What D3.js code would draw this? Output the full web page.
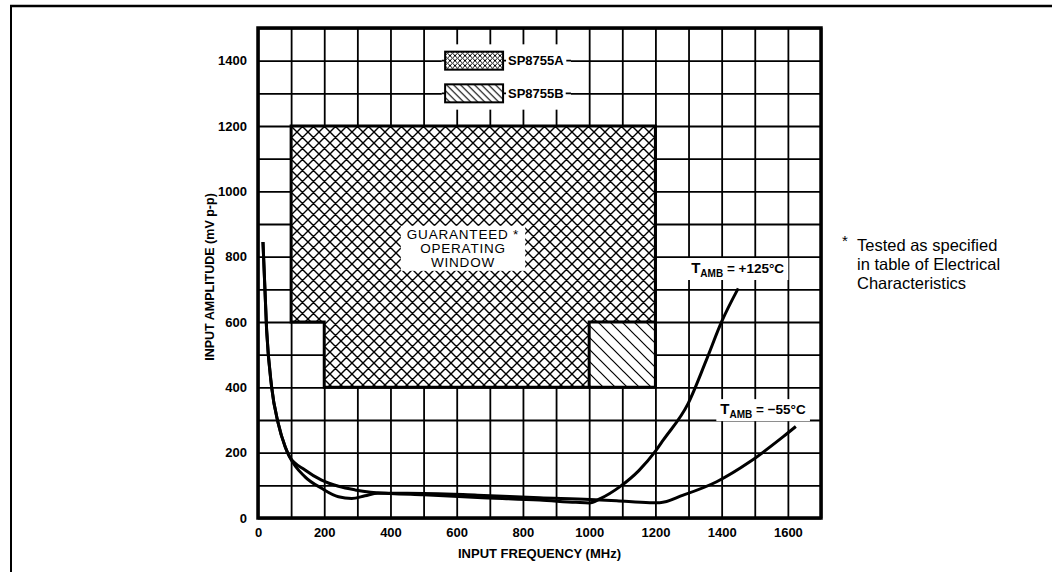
<!DOCTYPE html>
<html>
<head>
  <meta charset="utf-8">
  <title>SP8755 input sensitivity</title>
  <script src="https://d3js.org/d3.v7.min.js"></script>
  <style>
    body { margin: 0; background: #fff; }
    text { font-family: "Liberation Sans", Arial, Helvetica, sans-serif; fill: #000; }
  </style>
</head>
<body>
<script>
// ---- data ----
var freqTicks = [0, 200, 400, 600, 800, 1000, 1200, 1400, 1600];
var ampTicks = [0, 200, 400, 600, 800, 1000, 1200, 1400];

// T amb = -55 C  [MHz, mV p-p]
var curveM55 = [[15,845],[26,576],[41,402],[61,290],[82,218],[95,188],[142,126],[192,91],
  [243,65],[283,60],[323,68],[362,76],[450,76],[663,70],[850,62],[1002,57],[1083,53],
  [1183,47],[1213,47],[1284,70],[1385,111],[1485,172],[1586,249],[1624,280]];
// T amb = +125 C
var curveP125 = [[15,845],[26,576],[41,402],[61,290],[82,218],[95,188],[142,147],[192,116],
  [243,97],[293,86],[340,79],[400,75],[500,71],[663,63],[850,55],[960,48],[1000,46],
  [1035,60],[1093,96],[1150,145],[1199,203],[1224,239],[1299,351],[1354,484],[1400,601],[1450,703]];

// guaranteed operating windows
var windowA = [[100,600],[100,1200],[1200,1200],[1200,600],[1000,600],[1000,400],[200,400],[200,600]];
var windowB = [[1000,400],[1000,600],[1200,600],[1200,400]];
var windowEdge = [[100,600],[200,600],[200,400],[1200,400],[1200,1200],[100,1200],[100,600]];
var windowSplit = [[1000,400],[1000,600],[1200,600]];

var legendNames = ["SP8755A", "SP8755B"];
var windowLabel = ["GUARANTEED *", "OPERATING", "WINDOW"];
var tempLabels = ["+125\u00b0C", "\u221255\u00b0C"];
var footnote = ["Tested as specified", "in table of Electrical", "Characteristics"];

// ---- layout ----
var W = 1052, H = 572;
var x = d3.scaleLinear().domain([0, 1700]).range([258, 821]);
var y = d3.scaleLinear().domain([0, 1500]).range([518, 28]);

var svg = d3.select("body").append("svg").attr("width", W).attr("height", H);
var defs = svg.append("defs");

function hatch(id, size, d, sw) {
  defs.append("pattern").attr("id", id).attr("patternUnits", "userSpaceOnUse")
    .attr("width", size).attr("height", size)
    .append("path").attr("d", d).attr("stroke", "#000").attr("stroke-width", sw).attr("fill", "none");
}
hatch("xh", 11, "M0,0L11,11M11,0L0,11M-1,1L1,-1M10,12L12,10M-1,10L1,12M10,-1L12,1", 1.4);
hatch("dh", 12, "M0,0L12,12M-3,9L3,15M9,-3L15,3", 1.2);
hatch("xhs", 5, "M0,0L5,5M5,0L0,5", 1);
hatch("dhs", 7, "M0,0L7,7M-2,5L2,9M5,-2L9,2", 1.1);

// page frame (scan border)
svg.append("line").attr("x1", 10).attr("x2", W).attr("y1", 6).attr("y2", 6)
  .attr("stroke", "#000").attr("stroke-width", 2.5);
svg.append("line").attr("x1", 11).attr("x2", 11).attr("y1", 5).attr("y2", H)
  .attr("stroke", "#000").attr("stroke-width", 2);

// grid
var gridF = d3.range(0, 1701, 100), gridA = d3.range(0, 1501, 100);
var gx = svg.append("g").attr("transform", "translate(0," + y(0) + ")")
  .call(d3.axisBottom(x).tickValues(gridF).tickSize(-(y(0) - y(1500))).tickFormat(""));
var gy = svg.append("g").attr("transform", "translate(" + x(0) + ",0)")
  .call(d3.axisLeft(y).tickValues(gridA).tickSize(-(x(1700) - x(0))).tickFormat(""));
[gx, gy].forEach(function(g) {
  g.select(".domain").remove();
  g.selectAll("line").attr("stroke", "#000").attr("stroke-width", 1.8);
});

// axis labels
var fmt = d3.format("d");
var ax = svg.append("g").attr("transform", "translate(0," + y(0) + ")")
  .call(d3.axisBottom(x).tickValues(freqTicks).tickFormat(fmt).tickSize(0).tickPadding(10));
var ay = svg.append("g").attr("transform", "translate(" + x(0) + ",0)")
  .call(d3.axisLeft(y).tickValues(ampTicks).tickFormat(fmt).tickSize(0).tickPadding(11));
[ax, ay].forEach(function(g) {
  g.select(".domain").remove();
  g.selectAll("text").attr("font-family", "Liberation Sans, Arial, sans-serif")
    .attr("font-size", 13).attr("font-weight", "bold").attr("fill", "#000");
});

svg.append("text").attr("x", (x(0) + x(1700)) / 2).attr("y", 558)
  .attr("text-anchor", "middle").attr("font-size", 13).attr("font-weight", "bold")
  .text("INPUT FREQUENCY (MHz)");
svg.append("text").attr("transform", "translate(214," + ((y(0) + y(1500)) / 2 + 4) + ") rotate(-90)")
  .attr("text-anchor", "middle").attr("font-size", 12.5).attr("font-weight", "bold")
  .text("INPUT AMPLITUDE (mV p-p)");

// operating window
var line = d3.line().x(function(d) { return x(d[0]); }).y(function(d) { return y(d[1]); });
svg.append("path").attr("d", line(windowA) + "Z").attr("fill", "#fff");
svg.append("path").attr("d", line(windowA) + "Z").attr("fill", "url(#xh)");
svg.append("path").attr("d", line(windowB) + "Z").attr("fill", "#fff");
svg.append("path").attr("d", line(windowB) + "Z").attr("fill", "url(#dh)");
svg.append("path").attr("d", line(windowEdge) + "Z").attr("fill", "none")
  .attr("stroke", "#000").attr("stroke-width", 3).attr("stroke-linejoin", "miter");
svg.append("path").attr("d", line(windowSplit)).attr("fill", "none")
  .attr("stroke", "#000").attr("stroke-width", 3);

// plot border
svg.append("rect").attr("x", x(0)).attr("y", y(1500))
  .attr("width", x(1700) - x(0)).attr("height", y(0) - y(1500))
  .attr("fill", "none").attr("stroke", "#000").attr("stroke-width", 3.5);

// legend
var lgX0 = x(555), lgX1 = x(945);
svg.append("rect").attr("x", lgX0).attr("y", y(1450)).attr("width", lgX1 - lgX0)
  .attr("height", y(1250) - y(1450)).attr("fill", "#fff");
var lg = svg.selectAll(".lg").data(legendNames).enter().append("g").attr("class", "lg")
  .attr("transform", function(d, i) { return "translate(0," + y(1400 - i * 100) + ")"; });
lg.append("line").attr("x1", lgX0).attr("x2", lgX1).attr("stroke", "#000").attr("stroke-width", 1.8);
lg.append("rect").attr("x", x(565)).attr("y", -9).attr("width", x(740) - x(565)).attr("height", 18)
  .attr("fill", "#fff");
lg.append("rect").attr("x", x(565)).attr("y", -9).attr("width", x(740) - x(565)).attr("height", 18)
  .attr("fill", function(d, i) { return i ? "url(#dhs)" : "url(#xhs)"; })
  .attr("stroke", "#000").attr("stroke-width", 2);
lg.append("rect").attr("class", "lbg").attr("fill", "#fff");
lg.append("text").attr("x", x(755)).attr("y", 0).attr("dy", "0.36em")
  .attr("font-size", 13).attr("font-weight", "bold").text(function(d) { return d; });
lg.each(function() {
  var g = d3.select(this), b = g.select("text").node().getBBox();
  g.select(".lbg").attr("x", b.x - 2).attr("y", b.y).attr("width", b.width + 4).attr("height", b.height);
});

// window label
var wl = svg.append("g");
var wlBg = wl.append("rect").attr("fill", "#fff");
wl.selectAll("text").data(windowLabel).enter().append("text")
  .attr("text-anchor", "middle").attr("font-size", 13.5).attr("letter-spacing", 0.8)
  .attr("x", x(619)).attr("y", function(d, i) { return y(827) - 9 + i * 14; })
  .text(function(d) { return d; });
var wb = wl.node().getBBox();
wlBg.attr("x", wb.x - 6).attr("y", wb.y - 1).attr("width", wb.width + 12).attr("height", wb.height + 2);

// curves
var curve = d3.line().curve(d3.curveMonotoneX)
  .x(function(d) { return x(d[0]); }).y(function(d) { return y(d[1]); });
svg.selectAll(".curve").data([curveM55, curveP125]).enter().append("path").attr("class", "curve")
  .attr("d", curve).attr("fill", "none").attr("stroke", "#000")
  .attr("stroke-width", 3).attr("stroke-linecap", "butt");

// temperature labels
var tlPos = [[1308, 750], [1396, 318]];
tempLabels.forEach(function(t, i) {
  var g = svg.append("g");
  var bg = g.append("rect").attr("fill", "#fff");
  var tx = g.append("text").attr("x", x(tlPos[i][0])).attr("y", y(tlPos[i][1])).attr("font-weight", "bold");
  tx.append("tspan").attr("font-size", 15).text("T");
  tx.append("tspan").attr("font-size", 10).attr("dy", 4).text("AMB");
  tx.append("tspan").attr("font-size", 13.5).attr("dy", -4).text(" = " + t);
  var b = tx.node().getBBox();
  bg.attr("x", b.x - 4).attr("y", b.y - 1).attr("width", b.width + 8).attr("height", b.height + 2);
});

// footnote
svg.append("text").attr("x", 842).attr("y", 246).attr("font-size", 15).text("*");
svg.append("text").attr("font-size", 16.5).selectAll("tspan").data(footnote).enter().append("tspan")
  .attr("x", 857).attr("y", function(d, i) { return 251 + i * 19; })
  .text(function(d) { return d; });
</script>
</body>
</html>
